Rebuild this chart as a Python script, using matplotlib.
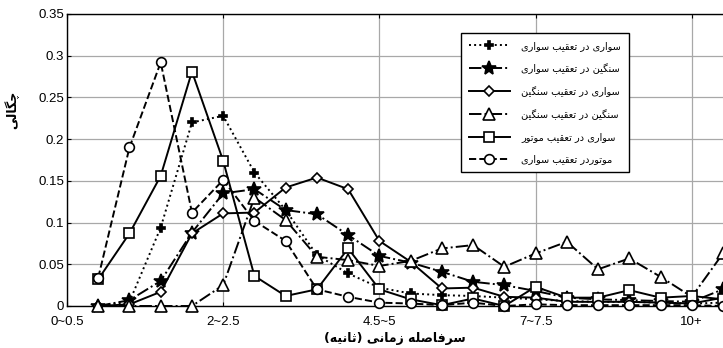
import numpy as np
import matplotlib
matplotlib.use("Agg")
import matplotlib.pyplot as plt

# ---------------- data ----------------
tick_labels = ["0~0.5", "2~2.5", "4.5~5", "7~7.5", "10+"]
tick_positions = [0, 5, 10, 15, 20]
x_vals = list(range(1, 22))

s_car_car = [0, 0.005, 0.094, 0.22, 0.228, 0.16, 0.115, 0.061, 0.039, 0.022, 0.015,
             0.013, 0.012, 0.01, 0.008, 0.006, 0.005, 0.005, 0.004, 0.003, 0.004]
s_heavy_car = [0, 0.007, 0.03, 0.088, 0.135, 0.14, 0.115, 0.11, 0.085, 0.06, 0.052,
               0.041, 0.029, 0.025, 0.018, 0.01, 0.008, 0.007, 0.006, 0.005, 0.02]
s_car_heavy = [0, 0.002, 0.017, 0.087, 0.111, 0.112, 0.142, 0.154, 0.14, 0.078, 0.053,
               0.021, 0.022, 0.011, 0.01, 0.005, 0.005, 0.005, 0.004, 0.003, 0.01]
s_heavy_heavy = [0, 0, 0, 0, 0.025, 0.13, 0.103, 0.059, 0.055, 0.048, 0.054,
                 0.069, 0.073, 0.047, 0.063, 0.077, 0.044, 0.057, 0.035, 0.011, 0.063]
s_car_motor = [0.032, 0.087, 0.156, 0.281, 0.174, 0.036, 0.012, 0.02, 0.069, 0.02, 0.008,
               0.001, 0.009, 0.0, 0.023, 0.01, 0.01, 0.019, 0.01, 0.012, 0.008]
s_motor_car = [0.034, 0.19, 0.292, 0.112, 0.151, 0.102, 0.078, 0.02, 0.011, 0.004, 0.003,
               0.001, 0.004, 0.0, 0.002, 0.001, 0.001, 0.001, 0.001, 0.001, 0.0]

labels = [
    "سواری در تعقیب سواری",
    "سنگین در تعقیب سواری",
    "سواری در تعقیب سنگین",
    "سنگین در تعقیب سنگین",
    "سواری در تعقیب موتور",
    "موتوردر تعقیب سواری",
]
xlabel = "سرفاصله زمانی (ثانیه)"
ylabel = "چگالی"

# ---------------- simple Arabic-script shaping ----------------
FORMS = {
    "ا": (0xFE8D, 0xFE8E, None, None),
    "ب": (0xFE8F, 0xFE90, 0xFE91, 0xFE92),
    "ت": (0xFE95, 0xFE96, 0xFE97, 0xFE98),
    "ث": (0xFE99, 0xFE9A, 0xFE9B, 0xFE9C),
    "د": (0xFEA9, 0xFEAA, None, None),
    "ر": (0xFEAD, 0xFEAE, None, None),
    "ز": (0xFEAF, 0xFEB0, None, None),
    "س": (0xFEB1, 0xFEB2, 0xFEB3, 0xFEB4),
    "ص": (0xFEB9, 0xFEBA, 0xFEBB, 0xFEBC),
    "ع": (0xFEC9, 0xFECA, 0xFECB, 0xFECC),
    "ف": (0xFED1, 0xFED2, 0xFED3, 0xFED4),
    "ق": (0xFED5, 0xFED6, 0xFED7, 0xFED8),
    "ل": (0xFEDD, 0xFEDE, 0xFEDF, 0xFEE0),
    "م": (0xFEE1, 0xFEE2, 0xFEE3, 0xFEE4),
    "ن": (0xFEE5, 0xFEE6, 0xFEE7, 0xFEE8),
    "ه": (0xFEE9, 0xFEEA, 0xFEEB, 0xFEEC),
    "و": (0xFEED, 0xFEEE, None, None),
    "ی": (0xFBFC, 0xFBFD, 0xFBFE, 0xFBFF),
    "گ": (0xFB92, 0xFB93, 0xFB94, 0xFB95),
    "چ": (0xFB7A, 0xFB7B, 0xFB7C, 0xFB7D),
}


def shape(text):
    out = []
    n = len(text)
    for i, c in enumerate(text):
        if c not in FORMS:
            out.append(c)
            continue
        prev = text[i - 1] if i > 0 else None
        nxt = text[i + 1] if i + 1 < n else None
        iso, fin, ini, med = FORMS[c]
        jp = prev in FORMS and FORMS[prev][2] is not None
        jn = nxt in FORMS and ini is not None
        if jp and jn:
            out.append(chr(med))
        elif jp:
            out.append(chr(fin))
        elif jn:
            out.append(chr(ini))
        else:
            out.append(chr(iso))
    vis = "".join(reversed(out))
    vis = vis.replace("(", "\0").replace(")", "(").replace("\0", ")")
    return vis


# ---------------- figure ----------------
plt.rcParams["font.family"] = ["Liberation Sans", "DejaVu Sans"]
fig = plt.figure(figsize=(7.23, 3.48), dpi=100)
ax = fig.add_axes([67 / 723, 42 / 348, 656 / 723, 292 / 348])

styles = [
    dict(ls=":", marker="P", ms=6, mfc="black"),
    dict(ls="-.", marker="*", ms=10, mfc="black"),
    dict(ls="-", marker="D", ms=5.5, mfc="white"),
    dict(ls="-.", marker="^", ms=8, mfc="white"),
    dict(ls="-", marker="s", ms=7, mfc="white"),
    dict(ls="--", marker="o", ms=7, mfc="white"),
]
series = [s_car_car, s_heavy_car, s_car_heavy, s_heavy_heavy, s_car_motor, s_motor_car]

for ys, st, lab in zip(series, styles, labels):
    ax.plot(x_vals, ys, color="black", lw=1.4, mec="black", mew=1.2,
            label=shape(lab), clip_on=False, zorder=3, **st)

ax.set_xlim(0, 21)
ax.set_ylim(0, 0.35)
ax.set_xticks(tick_positions)
ax.set_xticklabels(tick_labels)
yt = np.arange(0, 0.351, 0.05)
ax.set_yticks(yt)
ax.set_yticklabels(["%g" % round(v, 2) for v in yt])
ax.tick_params(direction="in", top=True, right=False, labelsize=9.5, length=3,
               colors="black", pad=2)
ax.tick_params(axis="x", pad=7)
ax.grid(True, color="#a8a8a8", lw=0.9, zorder=0)
ax.set_axisbelow(True)
for sp in ["left", "top", "bottom"]:
    ax.spines[sp].set_linewidth(1.0)
ax.spines["right"].set_visible(False)

ax.set_xlabel(shape(xlabel), fontsize=9, fontweight="bold",
              family=["DejaVu Sans"], labelpad=3)
ax.set_ylabel(shape(ylabel), fontsize=9, fontweight="bold",
              family=["DejaVu Sans"])
ax.yaxis.set_label_coords(-0.072, 0.67)

leg = ax.legend(loc="upper left", bbox_to_anchor=((461 - 67) / 656, (306 - 33) / 292),
                borderaxespad=0, fancybox=False, framealpha=1, edgecolor="black",
                handlelength=4.2, prop={"family": "DejaVu Sans", "size": 7},
                labelspacing=1.25, borderpad=0.8, handletextpad=1.2)
leg.get_frame().set_linewidth(1.0)

fig.savefig("out.png", dpi=100)
